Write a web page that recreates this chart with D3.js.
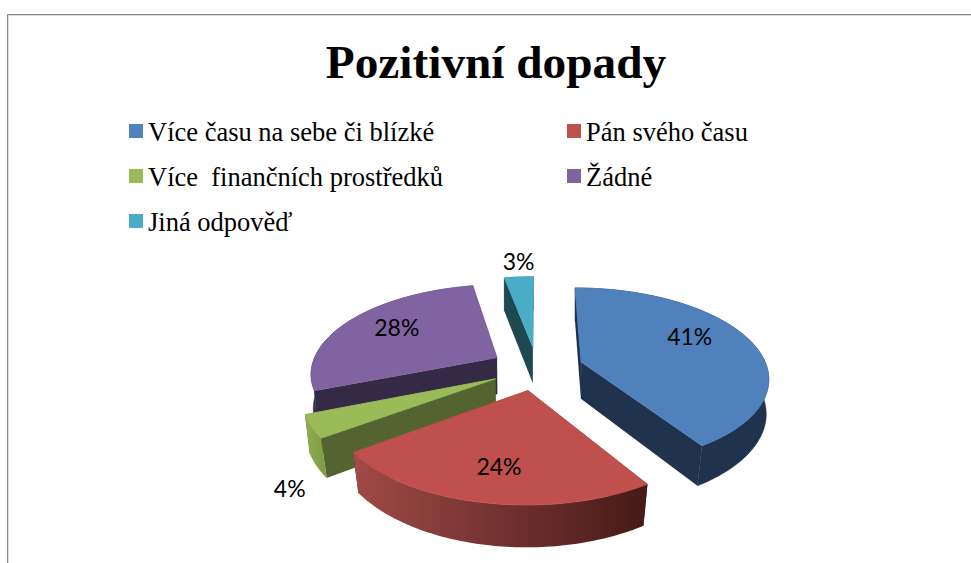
<!DOCTYPE html>
<html lang="cs">
<head>
<meta charset="utf-8">
<title>Pozitivní dopady</title>
<script src="https://cdn.jsdelivr.net/npm/d3@7"></script>
<style>
html,body{margin:0;padding:0;background:#fff;overflow:hidden}
svg{display:block}
</style>
</head>
<body>
<svg id="chart" width="971" height="563" xmlns="http://www.w3.org/2000/svg"></svg>
<script>
// ---- data ----
const titleText = "Pozitivní dopady";
const categories = ["Více času na sebe či blízké", "Pán svého času", "Více  finančních prostředků", "Žádné", "Jiná odpověď"];
const values = [41, 24, 4, 28, 3];

// ---- styles ----
const topColors  = ["#4f81bd", "#c0504d", "#9bbb59", "#8064a2", "#4bacc6"];
const wallColors = ["#1f334f", "#4b1d1b", "#546430", "#352a45", "#1e4852"];
const outerWall  = [null, "url(#redWall)", "url(#greenWall)", null, null];
const paintOrder = [4, 3, 0, 2, 1];

// ---- layout ----
const width = 971, height = 563;
const cx = 537, cy = 368, R = 186, B = 87.8, persp = 0.162;
const explode = 0.25, depth = 37, baseShrink = 0.16;
const labelRadius = 0.7;
const labelNudge = [[-10, -9], [1, 2], [-80, 77], [4, -3], [-4, -34]];

const svg = d3.select("#chart");
const defs = svg.append("defs");
function gradient(id, from, to) {
  const g = defs.append("linearGradient").attr("id", id).attr("x1", 0).attr("x2", 1).attr("y1", 0).attr("y2", 0);
  g.append("stop").attr("offset", 0).attr("stop-color", from);
  g.append("stop").attr("offset", 1).attr("stop-color", to);
}
gradient("redWall", "#a04a47", "#451a18");
gradient("greenWall", "#8fae50", "#7d9a42");

svg.append("rect").attr("width", width).attr("height", height).attr("fill", "#fff");

// chart-area frame (top and left edges are the only ones in view)
svg.append("path").attr("d", "M7.5,563V14.5H971").attr("fill", "none").attr("stroke", "#8a8a8a").attr("stroke-width", 1);
svg.append("path").attr("d", "M8.5,563V15.5H971").attr("fill", "none").attr("stroke", "#dcdcdc").attr("stroke-width", 1);

// title
svg.append("text").attr("x", 496).attr("y", 78).attr("text-anchor", "middle")
  .attr("font-family", "'Liberation Serif', serif").attr("font-weight", "bold").attr("font-size", 47.3)
  .attr("fill", "#000").text(titleText);

// legend
const legendCols = [129, 567], legendRows = [124, 169, 214];
const legend = svg.append("g").selectAll("g").data(categories).join("g")
  .attr("transform", (d, i) => `translate(${legendCols[i % 2]},${legendRows[Math.floor(i / 2)]})`);
legend.append("rect").attr("width", 14).attr("height", 14).attr("fill", (d, i) => topColors[i]);
legend.append("text").attr("x", 19).attr("y", 17)
  .attr("font-family", "'Liberation Serif', serif").attr("font-size", 26.5).attr("fill", "#000")
  .attr("xml:space", "preserve").style("white-space", "pre").text(d => d);

// pie geometry
const pie = d3.pie().sort(null).startAngle(0).endAngle(2 * Math.PI)(values);

// planar disc point -> screen, with perspective
function project(px, py, base) {
  const w = 1 + persp * py;
  let X = cx + R * px / w, Y = cy - B * py / w;
  if (base) {
    X = cx + (X - cx) * (1 - baseShrink * Math.max(0, 1.05 - w));
    Y += depth / Math.pow(w, 0.6);
  }
  return [X, Y];
}
function slicePoint(d, angle, r, base) {
  const mid = (d.startAngle + d.endAngle) / 2;
  return project(explode * Math.sin(mid) + r * Math.sin(angle),
                 explode * Math.cos(mid) + r * Math.cos(angle), base);
}
const line = d3.line();
function arcAngles(d) {
  const n = Math.max(8, Math.ceil((d.endAngle - d.startAngle) / 0.02));
  return d3.range(n + 1).map(k => d.startAngle + (d.endAngle - d.startAngle) * k / n);
}

const sliceG = svg.append("g").selectAll("g").data(paintOrder.map(i => pie[i])).join("g");
sliceG.each(function (d) {
  const g = d3.select(this), i = d.index, angles = arcAngles(d);
  const wall = wallColors[i];
  // radial walls
  [d.startAngle, d.endAngle].forEach(a => {
    g.append("path").attr("fill", wall).attr("d", line([
      slicePoint(d, a, 0, false), slicePoint(d, a, 1, false),
      slicePoint(d, a, 1, true), slicePoint(d, a, 0, true)
    ]) + "Z");
  });
  // outer curved wall
  const topArc = angles.map(a => slicePoint(d, a, 1, false));
  const baseArc = angles.map(a => slicePoint(d, a, 1, true)).reverse();
  g.append("path").attr("fill", outerWall[i] || wall)
    .attr("stroke", outerWall[i] ? "none" : wall).attr("stroke-width", 0.5)
    .attr("d", line(topArc.concat(baseArc)) + "Z");
  // top face
  g.append("path").attr("fill", topColors[i])
    .attr("stroke", topColors[i]).attr("stroke-width", 0.8).attr("stroke-linejoin", "round")
    .attr("d", line([slicePoint(d, d.startAngle, 0, false)].concat(topArc)) + "Z");
});

// percentage labels
svg.append("g").selectAll("text").data(pie).join("text")
  .attr("transform", (d, i) => {
    const mid = (d.startAngle + d.endAngle) / 2;
    const p = slicePoint(d, mid, labelRadius, false);
    return `translate(${p[0] + labelNudge[i][0]},${p[1] + labelNudge[i][1]})`;
  })
  .attr("text-anchor", "middle").attr("dy", "0.36em")
  .attr("font-family", "Lato, sans-serif").attr("font-size", 23).attr("fill", "#000")
  .text(d => d.value + "%");
</script>
</body>
</html>
